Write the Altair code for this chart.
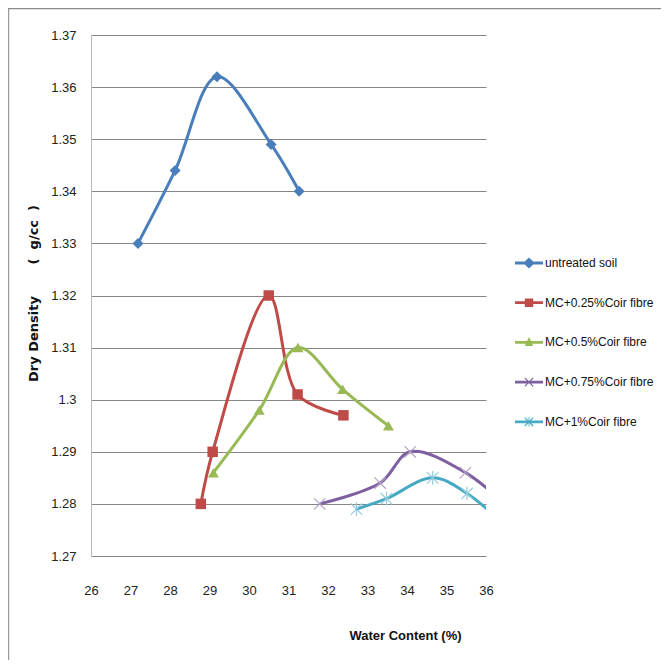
import altair as alt
import pandas as pd

# ---------------- data ----------------
series_names = [
    "untreated soil",
    "MC+0.25%Coir fibre",
    "MC+0.5%Coir fibre",
    "MC+0.75%Coir fibre",
    "MC+1%Coir fibre",
]

wc_untreated = [27.19, 28.13, 29.19, 30.56, 31.27]
dd_untreated = [1.330, 1.344, 1.362, 1.349, 1.340]

wc_025 = [28.78, 29.08, 30.50, 31.23, 32.39]
dd_025 = [1.280, 1.290, 1.320, 1.301, 1.297]

wc_05 = [29.10, 30.26, 31.24, 32.37, 33.53]
dd_05 = [1.286, 1.298, 1.310, 1.302, 1.295]

wc_075 = [31.79, 33.32, 34.08, 35.48, 36.60]
dd_075 = [1.280, 1.284, 1.290, 1.286, 1.279]

wc_1 = [32.72, 33.48, 34.65, 35.52, 36.60]
dd_1 = [1.279, 1.281, 1.285, 1.282, 1.275]

x_ticks = [26, 27, 28, 29, 30, 31, 32, 33, 34, 35, 36]
y_ticks = [1.27, 1.28, 1.29, 1.30, 1.31, 1.32, 1.33, 1.34, 1.35, 1.36, 1.37]

# ---------------- styling ----------------
line_colors = ["#4A7EBB", "#BE4B48", "#98B954", "#7D60A0", "#46AAC5"]
FONT = "Liberation Sans"
NB = "\u00a0"

rows = []
for name, xs, ys in zip(series_names,
                        [wc_untreated, wc_025, wc_05, wc_075, wc_1],
                        [dd_untreated, dd_025, dd_05, dd_075, dd_1]):
    for i, (x, y) in enumerate(zip(xs, ys)):
        rows.append({"series": name, "wc": x, "dd": y, "order": i})
df = pd.DataFrame(rows)

x_enc = alt.X(
    "wc:Q",
    scale=alt.Scale(domain=[26, 36], nice=False, zero=False),
    axis=alt.Axis(
        values=x_ticks, grid=False, domain=False, ticks=False, labelFlush=False,
        labelFont=FONT, labelFontSize=13, labelColor="#222222", labelPadding=28,
        title="Water Content (%)", titleFont=FONT, titleFontSize=13,
        titleFontWeight="bold", titleColor="#111111",
        titleX=314, titleY=79, titleAlign="center", titleBaseline="middle",
    ),
)
y_enc = alt.Y(
    "dd:Q",
    scale=alt.Scale(domain=[1.27, 1.37], nice=False, zero=False),
    axis=alt.Axis(
        values=y_ticks, format=".3~g", grid=True, gridColor="#868686",
        gridWidth=1, domain=True, domainColor="#b8b8b8", ticks=False, labelFlush=False,
        labelFont=FONT, labelFontSize=13, labelColor="#222222", labelPadding=15,
        title="Dry Density" + NB * 7 + "(" + NB * 2 + "g/cc" + NB * 2 + ")",
        titleFont="DejaVu Sans", titleFontSize=13,
        titleFontWeight="bold", titleColor="#111111",
        titleX=-58, titleY=258, titleAlign="center", titleBaseline="middle",
    ),
)

base = alt.Chart(df)


def series_line(i):
    return base.transform_filter(alt.datum.series == series_names[i]).mark_line(
        interpolate="catmull-rom", strokeWidth=3, color=line_colors[i], clip=True
    ).encode(x=x_enc, y=y_enc, order=alt.Order("order:Q"))


def filled_markers(i, shape, size):
    return base.transform_filter(alt.datum.series == series_names[i]).mark_point(
        filled=True, shape=shape, size=size, opacity=1, color=line_colors[i], clip=True
    ).encode(x=x_enc, y=y_enc)


def stroke_markers(i, shape, size, color):
    return base.transform_filter(alt.datum.series == series_names[i]).mark_point(
        filled=False, shape=shape, size=size, strokeWidth=1.2, opacity=1,
        color=color, clip=True
    ).encode(x=x_enc, y=y_enc)


lines = [series_line(i) for i in range(5)]
m1 = filled_markers(0, "diamond", 120)
m2 = filled_markers(1, "square", 110)
m3 = filled_markers(2, "triangle-up", 120)
m4 = stroke_markers(3, "M-1,-1L1,1M-1,1L1,-1", 130, "#B3A2C7")
m5 = stroke_markers(4, "M-1,-1L1,1M-1,1L1,-1M0,-1.2L0,1.2", 130, "#93CDDD")

# legend symbols: line + marker drawn as one filled path
RECT = "M-1,-0.1L1,-0.1L1,0.1L-1,0.1Z"
XBARS = ("M-0.33,-0.27L-0.27,-0.33L0.33,0.27L0.27,0.33Z"
         "M0.27,-0.33L0.33,-0.27L-0.27,0.33L-0.33,0.27Z")
legend_paths = [
    "M-1,-0.1L-0.3,-0.1L0,-0.4L0.3,-0.1L1,-0.1L1,0.1L0.3,0.1L0,0.4L-0.3,0.1L-1,0.1Z",
    "M-1,-0.1L-0.3,-0.1L-0.3,-0.3L0.3,-0.3L0.3,-0.1L1,-0.1L1,0.1L0.3,0.1L0.3,0.3L-0.3,0.3L-0.3,0.1L-1,0.1Z",
    RECT + "M0,-0.38L0.3,0.25L-0.3,0.25Z",
    RECT + XBARS,
    RECT + XBARS + "M-0.03,-0.36L0.03,-0.36L0.03,0.36L-0.03,0.36Z",
]

leg = alt.Legend(
    title=None, orient="none", legendX=424, legendY=214,
    symbolSize=784, symbolStrokeWidth=0, symbolOpacity=1,
    labelFont=FONT, labelFontSize=12, labelColor="#111111",
    labelOffset=2, labelLimit=300, rowPadding=19.7, padding=0,
)

legend_layer = base.mark_point(filled=True, opacity=1, clip=True).encode(
    x=alt.value(-500), y=alt.value(-500),
    color=alt.Color("series:N", scale=alt.Scale(domain=series_names, range=line_colors), legend=leg),
    shape=alt.Shape("series:N", scale=alt.Scale(domain=series_names, range=legend_paths), legend=leg),
)

frame_df = pd.DataFrame({"k": [0]})
frame_left = alt.Chart(frame_df).mark_rule(color="#9a9a9a", strokeWidth=1.5).encode(
    x=alt.value(-82.5), y=alt.value(-26.5), y2=alt.value(640)
)
frame_top = alt.Chart(frame_df).mark_rule(color="#8a8a8a", strokeWidth=1.5).encode(
    x=alt.value(-83), x2=alt.value(580), y=alt.value(-26.5)
)

chart = alt.layer(
    *lines, m1, m2, m3, m4, m5, legend_layer, frame_left, frame_top
).properties(
    width=395, height=521,
    padding={"left": 83, "top": 27, "right": 175, "bottom": 104},
    autosize="none",
    background="white",
).configure_view(strokeWidth=0)

chart.save("out.html", embed_options={"renderer": "svg", "actions": False})
